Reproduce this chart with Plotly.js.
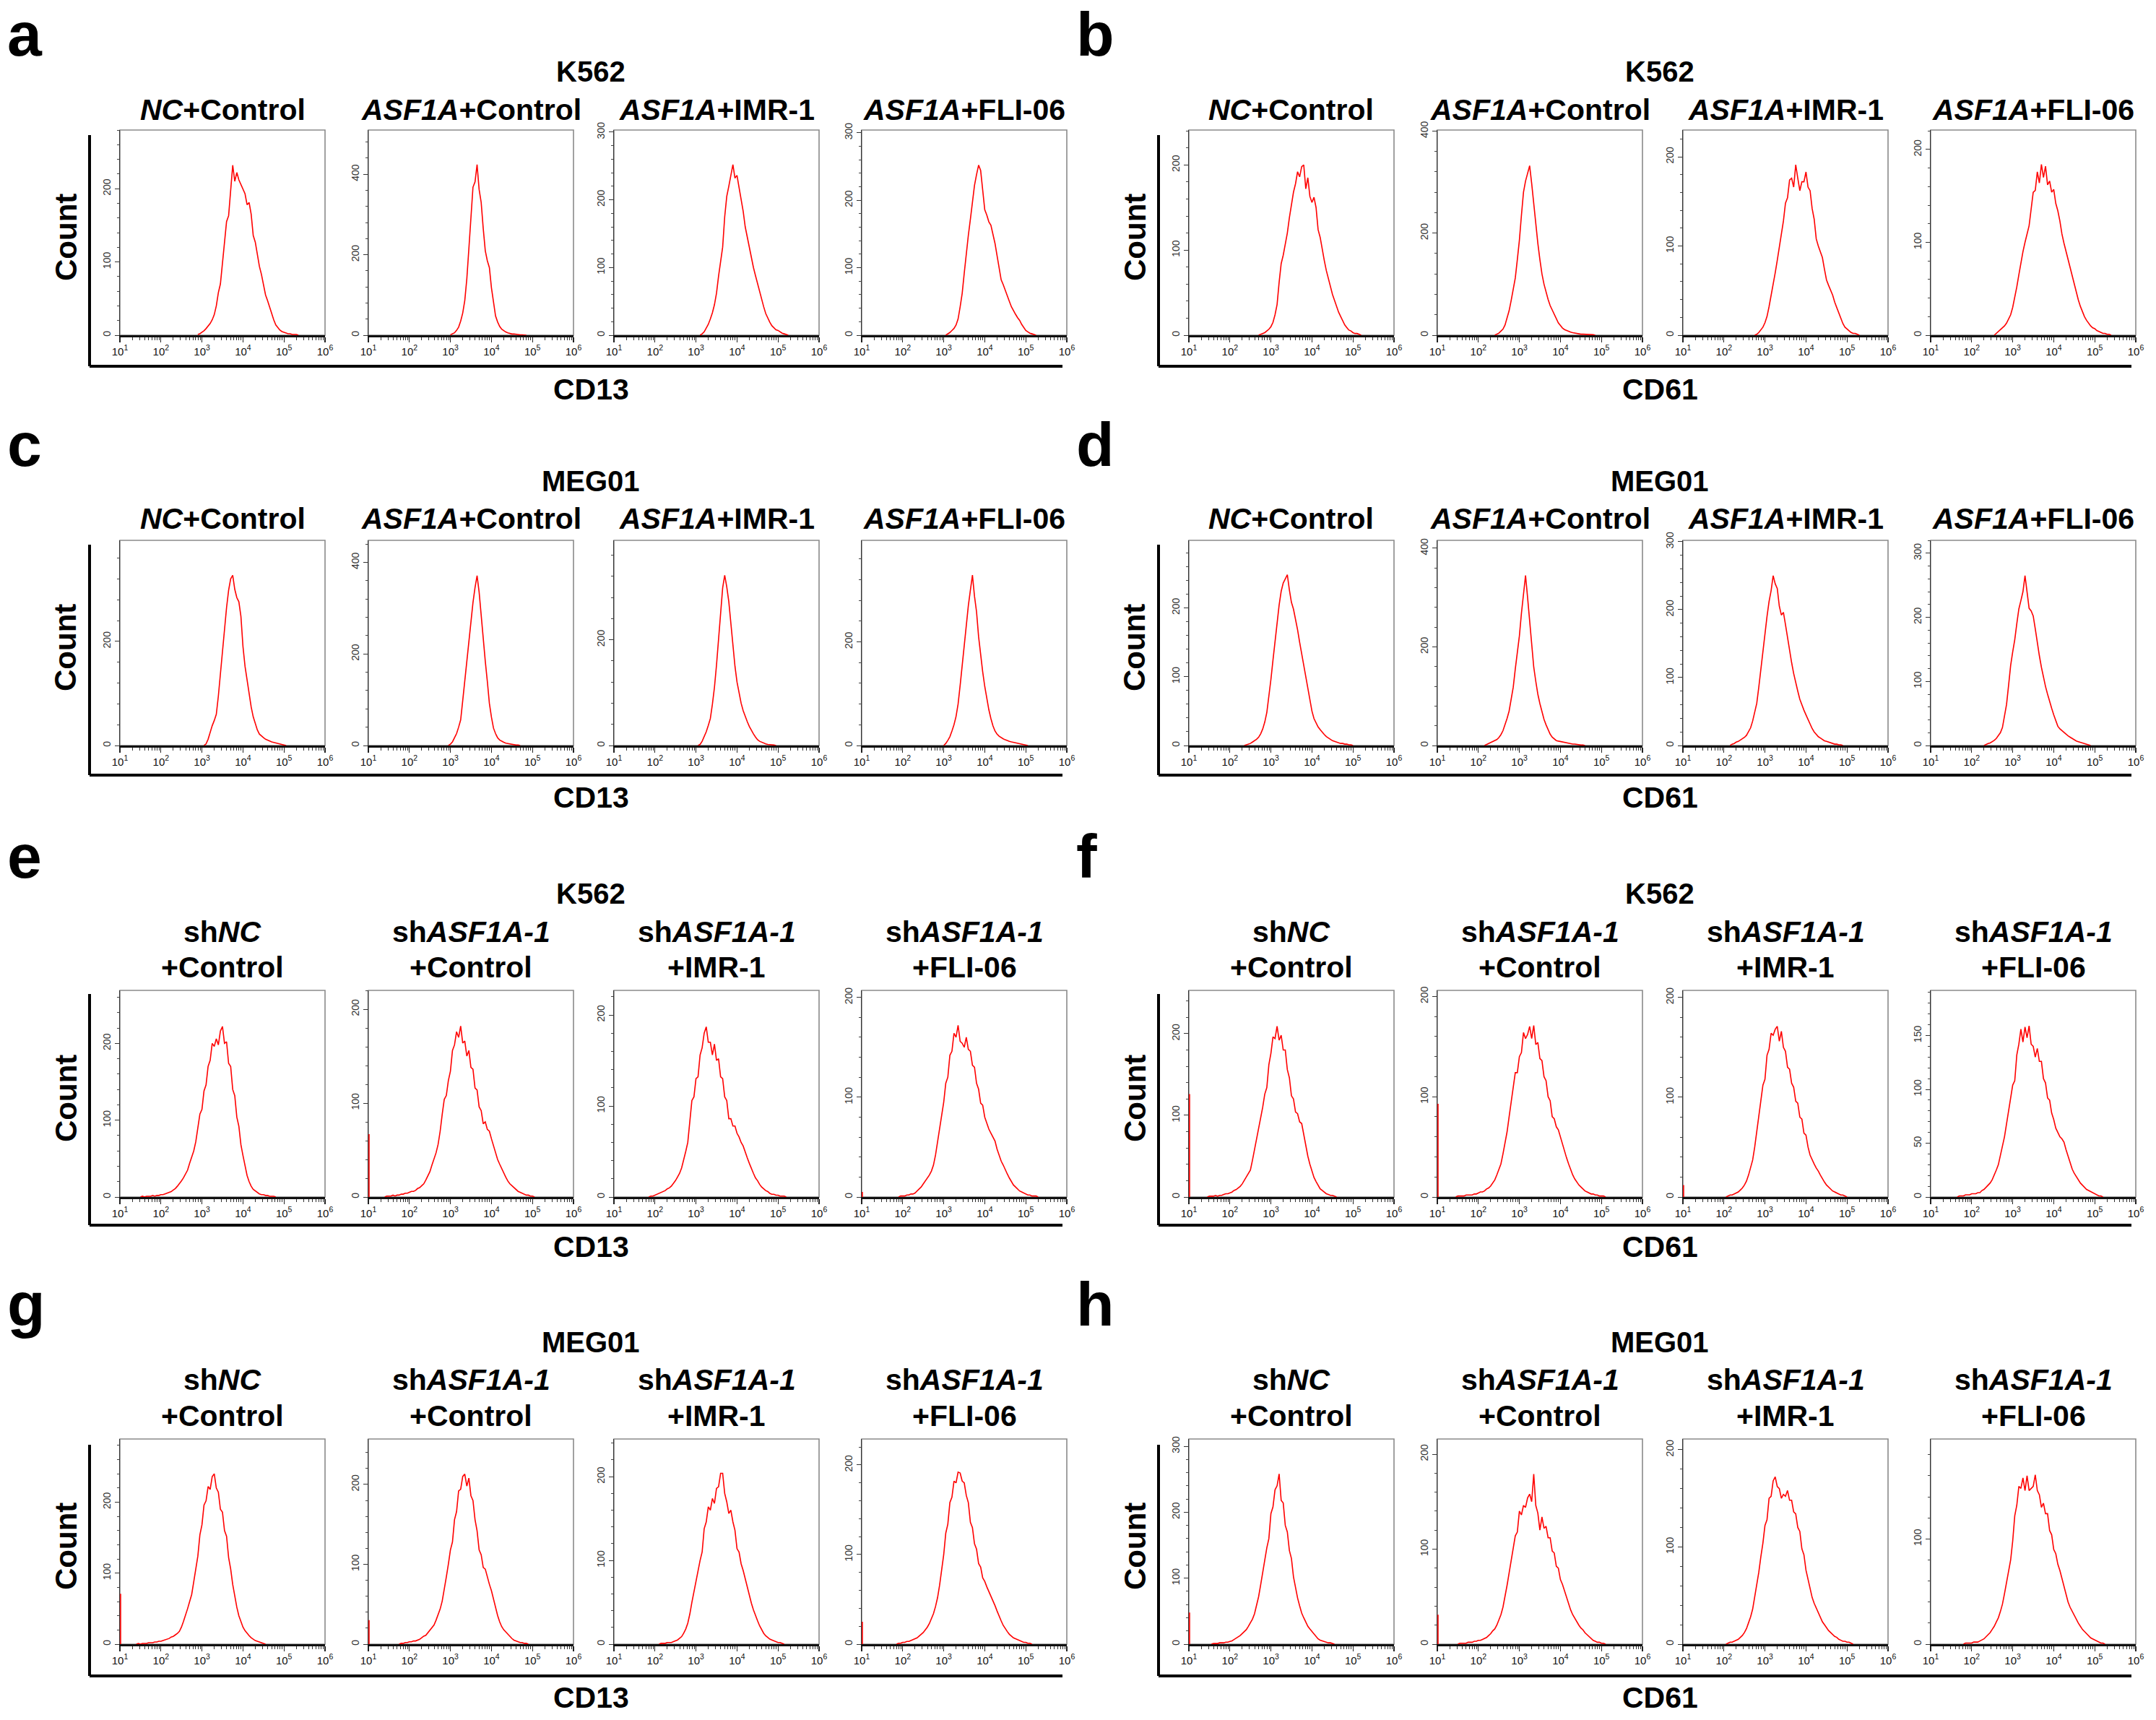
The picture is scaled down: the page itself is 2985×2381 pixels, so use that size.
<!DOCTYPE html>
<html><head><meta charset="utf-8">
<script src="https://cdn.plot.ly/plotly-3.0.1.min.js"></script>
<style>html,body{margin:0;padding:0;background:#fff}#chart{width:2985px;height:2381px}</style>
</head><body><div id="chart"></div>
<script>
// ---------------- DATA ----------------
const PANEL_LETTERS = ['a','b','c','d','e','f','g','h'];
const CELL_LINES = ['K562','K562','MEG01','MEG01','K562','K562','MEG01','MEG01'];
const MARKERS = ['CD13','CD61','CD13','CD61','CD13','CD61','CD13','CD61'];
const GROUPS_OE = ['<i>NC</i>+Control','<i>ASF1A</i>+Control','<i>ASF1A</i>+IMR-1','<i>ASF1A</i>+FLI-06'];
const GROUPS_SH = [['sh<i>NC</i>','+Control'],['sh<i>ASF1A-1</i>','+Control'],['sh<i>ASF1A-1</i>','+IMR-1'],['sh<i>ASF1A-1</i>','+FLI-06']];
const Y_LABEL = 'Count';
const X_TICK_VALUES = [10,100,1000,10000,100000,1000000];
const X_TICK_LABELS = ['10<sup>1</sup>','10<sup>2</sup>','10<sup>3</sup>','10<sup>4</sup>','10<sup>5</sup>','10<sup>6</sup>'];

// histogram channels: log10 of first channel of each curve, channel width in log10 units
const BIN_STEP_LOG = 0.05;
const FIRST_CHANNEL = 10.4;
const START_LOG = [
  [2.90, 3.00, 3.10, 3.05],
  [2.70, 2.40, 2.75, 2.55],
  [3.05, 2.95, 3.05, 3.00],
  [2.35, 2.15, 2.15, 2.30],
  [1.50, 1.40, 1.85, 1.90],
  [1.45, 1.45, 2.05, 1.65],
  [1.40, 1.75, 2.10, 1.85],
  [1.55, 1.50, 2.05, 1.80]
];
// counts piled in the first (lowest) channel
const EDGE_COUNT = [[0,0,0,0],[0,0,0,0],[0,0,0,0],[0,0,0,0],[0,67,0,5],[126,93,12,0],[71,30,0,25],[48,31,0,0]];
const Y_MAX = [[280,510,303,304],[241,402,230,221],[394,448,388,396],[298,416,302,320],[269,220,227,207],[253,206,207,192],[289,257,245,229],[311,216,211,195]];
const Y_DTICK = [[100,200,100,100],[100,200,100,100],[200,200,200,200],[100,200,100,100],[100,100,100,100],[100,100,100,50],[100,100,100,100],[100,100,100,100]];

const COUNTS_A = [
  [1,2,4,6,9,12,16,21,28,40,58,70,100,132,155,163,195,232,210,222,212,206,199,193,178,181,165,136,127,108,94,83,70,55,47,38,29,21,14,10,7,5,4,3,2,2,1,1,1,0],
  [1,3,6,12,20,35,55,86,140,215,295,368,381,424,362,330,265,210,185,168,118,80,48,33,22,15,11,8,6,4,3,3,2,2,1,1,1,0],
  [0,2,5,10,16,24,33,45,62,87,110,130,175,205,220,238,252,232,236,218,200,183,160,145,128,112,100,88,76,65,54,42,32,25,19,14,11,8,7,5,3,2,1,0],
  [0,2,4,7,10,15,24,42,62,92,122,148,172,196,222,238,252,244,215,186,178,168,163,150,136,118,98,82,75,66,59,50,42,36,31,26,22,16,11,7,5,3,2,1,0]
];
const COUNTS_B = [
  [0,1,2,3,5,7,10,15,24,36,62,84,94,106,120,138,152,168,178,192,186,198,200,172,185,163,156,162,150,124,115,100,88,76,66,57,48,41,33,27,22,17,12,9,6,5,3,2,2,1,0],
  [0,2,4,8,12,20,33,48,68,90,112,148,186,235,280,302,318,332,297,258,214,180,148,120,100,83,70,58,49,40,31,24,19,14,11,9,7,6,5,4,3,3,2,2,2,1,1,1,1,0],
  [0,1,3,6,9,14,21,32,44,56,70,84,98,112,128,148,154,174,176,166,191,176,162,172,172,183,166,162,142,130,108,100,94,87,74,62,56,50,45,37,31,24,18,13,9,7,5,3,2,2,1,0],
  [0,2,4,6,8,10,13,17,22,30,40,52,65,78,90,100,108,118,136,154,156,176,164,184,170,182,162,166,154,157,142,134,123,109,99,90,81,73,64,56,47,38,31,25,20,16,13,10,8,7,5,4,3,2,2,1,1,0]
];
const COUNTS_C = [
  [0,3,12,26,38,48,60,95,138,178,218,265,298,320,327,300,284,276,248,190,152,125,98,74,55,42,30,22,18,15,12,10,8,7,6,5,4,3,2,1,0],
  [0,3,8,16,26,40,56,98,140,184,232,276,312,345,371,335,282,228,184,140,92,62,38,26,17,12,9,7,5,4,3,3,2,1,1,0],
  [0,2,8,16,26,38,51,78,110,152,198,250,298,322,300,272,228,186,150,120,98,80,66,54,45,36,28,22,16,11,8,6,4,3,2,2,1,1,0],
  [0,4,10,17,28,40,56,80,116,156,200,240,270,300,329,288,258,210,172,142,114,90,69,52,38,28,22,18,15,13,11,9,8,7,6,5,4,3,2,2,1,0]
];
const COUNTS_D = [
  [0,1,2,3,5,7,9,12,17,24,34,48,70,96,124,152,183,204,224,236,242,248,226,208,198,184,168,150,134,116,100,84,68,50,39,33,27,23,19,16,13,11,9,7,6,5,4,3,3,2,2,1,1,0],
  [0,2,3,5,7,9,12,16,22,30,42,55,70,92,118,155,190,222,268,305,345,300,250,200,159,130,104,85,68,53,42,32,23,17,13,10,9,8,7,6,5,4,4,3,3,2,2,1,1,0],
  [0,2,3,5,6,8,10,12,15,20,26,36,48,62,86,112,138,170,190,212,228,250,238,231,205,192,196,178,158,138,122,106,92,80,68,59,52,45,38,31,25,20,16,13,11,9,7,6,5,4,3,2,2,1,1,0],
  [0,2,3,4,6,8,11,15,20,28,44,64,94,125,146,165,190,213,226,240,265,238,214,210,202,182,160,140,122,105,92,80,68,58,48,38,30,26,23,20,18,15,13,11,9,7,6,5,4,3,2,1,0]
];
const COUNTS_E = [
  [0,1,0,1,1,1,2,1,2,2,3,3,4,5,6,7,9,11,14,17,21,25,30,35,44,52,60,72,88,108,114,138,146,170,178,200,196,206,198,216,222,200,202,174,170,140,132,104,92,68,54,40,28,20,14,10,8,6,4,3,3,2,2,1,1,1,0],
  [0,1,1,1,2,1,2,2,3,3,4,4,5,6,6,7,9,10,12,14,18,22,27,34,40,47,56,70,88,104,108,124,134,156,162,176,170,182,164,166,150,156,138,136,116,114,96,92,78,80,72,70,62,54,46,40,35,30,25,21,17,14,12,10,8,6,5,4,3,2,2,1,1,0],
  [0,1,1,2,3,4,5,6,7,9,10,12,15,18,22,26,32,40,50,60,82,106,110,130,132,156,164,180,187,170,170,156,168,150,152,132,130,110,106,86,86,78,78,70,66,60,56,49,43,37,31,26,21,18,14,11,9,7,6,4,3,3,2,2,1,1,1,0],
  [0,1,1,1,2,2,3,3,4,6,8,10,13,16,19,22,26,32,42,55,69,82,95,114,120,142,146,164,160,172,156,154,150,160,148,146,132,130,114,108,94,92,80,74,68,64,60,56,48,42,36,32,27,23,19,15,12,10,8,6,5,4,3,2,2,1,1,1,0]
];
const COUNTS_F = [
  [0,1,1,1,2,1,2,2,3,4,4,5,6,8,9,11,13,16,20,24,28,33,45,58,72,84,96,110,126,134,162,176,196,194,209,192,198,180,180,156,146,124,120,104,102,92,90,76,64,50,40,32,24,19,14,10,8,6,4,3,2,2,1,0],
  [0,1,1,1,1,2,2,2,2,3,3,4,5,5,6,8,9,11,14,17,22,27,33,43,54,65,80,96,111,124,124,140,144,164,158,162,170,158,171,152,154,138,136,120,116,100,96,80,78,70,67,60,53,45,39,33,27,22,18,15,12,10,8,6,5,4,3,3,2,2,1,1,1,0],
  [0,1,2,2,3,4,5,7,9,12,16,22,29,37,50,66,84,96,112,118,142,148,164,162,168,171,156,166,150,146,130,128,114,110,96,94,80,78,64,62,50,42,37,33,29,26,22,18,15,12,10,8,6,5,4,3,2,2,1,0],
  [0,1,1,1,2,2,2,3,3,3,4,4,6,7,9,11,13,16,20,25,30,38,46,56,68,80,90,104,108,132,142,156,144,158,148,159,142,140,130,138,126,126,110,106,92,90,78,72,64,60,56,54,51,44,38,32,26,22,19,16,13,11,9,7,6,5,4,3,2,1,1,0]
];
const COUNTS_G = [
  [0,1,0,1,1,1,2,2,2,3,3,4,4,5,6,7,8,10,11,13,15,18,24,32,40,50,60,70,88,106,124,154,168,196,202,222,218,236,240,220,214,190,186,160,152,122,106,84,66,52,40,31,24,19,15,12,9,7,5,4,3,2,1,0],
  [0,1,1,2,2,3,3,4,4,5,6,8,10,11,14,17,20,24,30,37,44,54,68,84,100,118,128,156,166,192,194,210,213,198,208,186,180,156,142,118,112,96,94,84,75,67,56,46,36,28,22,18,15,12,9,7,5,4,3,2,2,1,1,0],
  [0,1,1,1,2,2,2,3,4,5,7,9,13,18,25,36,50,63,74,86,100,110,138,146,164,160,174,168,186,188,204,204,180,170,156,160,146,136,114,110,96,88,78,68,58,49,41,34,28,22,17,13,10,8,6,5,4,3,2,2,1,0],
  [0,1,1,2,2,3,3,4,5,6,7,9,11,13,16,19,23,28,34,42,52,66,82,100,124,134,158,164,182,180,192,191,182,180,166,158,136,130,112,106,90,86,74,70,64,59,54,48,43,37,31,26,21,17,14,11,9,7,6,5,4,3,2,2,1,1,0]
];
const COUNTS_H = [
  [0,1,1,1,2,2,2,3,3,4,5,7,9,11,13,16,19,22,27,32,38,46,58,72,90,110,130,146,160,198,208,234,240,258,218,214,180,170,142,130,102,84,70,58,47,40,33,27,23,19,15,11,8,6,5,4,3,2,2,1,0],
  [0,1,1,1,1,2,2,2,3,3,4,4,5,6,7,9,11,14,16,20,25,31,39,50,62,75,88,98,114,118,140,136,146,144,154,158,150,179,146,138,120,134,122,124,112,112,98,96,82,80,68,63,56,49,42,36,31,27,23,20,17,15,12,10,8,6,4,3,2,2,1,1,0],
  [0,1,2,2,3,4,5,7,9,12,16,22,28,36,48,60,74,90,104,122,128,150,152,168,172,162,160,150,154,152,158,148,148,136,134,120,116,98,92,76,66,56,48,42,37,32,27,23,20,17,14,12,10,8,7,5,4,3,3,2,2,1,0],
  [0,1,1,1,1,2,2,2,3,4,5,7,9,11,14,17,21,25,31,38,48,58,68,80,98,122,132,150,148,158,146,160,146,148,150,161,146,142,130,134,124,124,108,104,90,86,76,70,62,54,46,40,35,31,28,24,20,17,14,12,10,8,6,5,4,3,2,1,1,0]
];
const ALL_COUNTS = [COUNTS_A, COUNTS_B, COUNTS_C, COUNTS_D, COUNTS_E, COUNTS_F, COUNTS_G, COUNTS_H];

// ---------------- LAYOUT GEOMETRY (pixels) ----------------
const W = 2985, H = 2381;
const FONT = 'Liberation Sans, Arial, Helvetica, sans-serif';
const COL_OFFSET = 1480;
const BOX_LEFT = [166, 510, 850, 1193];
const BOX_W = 284;
const ROW_TOP = [180, 748, 1371, 1992];
const ROW_BOT = [464, 1032, 1657, 2276];
const px = x => x / W;
const py = y => 1 - y / H;

const traces = [];
const layout = {
  width: W, height: H,
  margin: {l:0, r:0, t:0, b:0},
  paper_bgcolor: '#ffffff', plot_bgcolor: '#ffffff',
  showlegend: false,
  shapes: [], annotations: []
};

for (let p = 0; p < 8; p++) {
  const col = p % 2, row = Math.floor(p / 2);
  for (let j = 0; j < 4; j++) {
    const n = p * 4 + j + 1;
    const sfx = n === 1 ? '' : String(n);
    const counts = ALL_COUNTS[p][j];
    const x = counts.map((_, i) => Math.pow(10, START_LOG[p][j] + i * BIN_STEP_LOG));
    traces.push({type:'scatter', mode:'lines', x: x, y: counts, xaxis:'x'+sfx, yaxis:'y'+sfx,
      line:{color:'#ff0000', width:1.6}, hoverinfo:'skip'});
    if (EDGE_COUNT[p][j] > 0) {
      traces.push({type:'scatter', mode:'lines', x:[FIRST_CHANNEL, FIRST_CHANNEL], y:[0, EDGE_COUNT[p][j]],
        xaxis:'x'+sfx, yaxis:'y'+sfx, line:{color:'#ff0000', width:1.6}, hoverinfo:'skip'});
    }
    const L = BOX_LEFT[j] + col * COL_OFFSET;
    const dt = Y_DTICK[p][j];
    layout['xaxis'+sfx] = {
      domain:[px(L), px(L + BOX_W)], anchor:'y'+sfx, type:'log', range:[1, 6],
      tickmode:'array', tickvals: X_TICK_VALUES, ticktext: X_TICK_LABELS,
      ticks:'outside', ticklen:7, tickwidth:1.2, tickcolor:'#222',
      minor:{ticks:'outside', ticklen:4, tickwidth:1, tickcolor:'#333', dtick:'D1'},
      showline:true, linecolor:'#111', linewidth:2.5, showgrid:false, zeroline:false,
      tickfont:{family:FONT, size:15, color:'#111'}, fixedrange:true
    };
    layout['yaxis'+sfx] = {
      domain:[py(ROW_BOT[row]), py(ROW_TOP[row])], anchor:'x'+sfx, range:[0, Y_MAX[p][j]],
      tickmode:'linear', tick0:0, dtick: dt, tickangle:-90,
      ticks:'outside', ticklen:6, tickwidth:1, tickcolor:'#333',
      minor:{ticks:'outside', ticklen:3, tickwidth:1, tickcolor:'#444', dtick: dt / 5},
      showline:true, linecolor:'#333', linewidth:1.2, showgrid:false, zeroline:false,
      tickfont:{family:FONT, size:14, color:'#333'}, layer:'below traces', fixedrange:true
    };
    layout.shapes.push({type:'rect', xref:'x'+sfx+' domain', yref:'y'+sfx+' domain',
      x0:0, x1:1, y0:0, y1:1, line:{color:'#8a8a8a', width:1.6}, layer:'below'});

    // group labels
    const cx = px(L + BOX_W / 2);
    if (row < 2) {
      layout.annotations.push({xref:'paper', yref:'paper', x:cx, y:py([152, 718][row]), xanchor:'center', yanchor:'middle',
        text: GROUPS_OE[j], showarrow:false, font:{family:FONT, size:41, color:'#000', weight:'bold'}});
    } else {
      const ys = [[1290, 1339], [1910, 1960]][row - 2];
      GROUPS_SH[j].forEach((t, k) => layout.annotations.push({xref:'paper', yref:'paper', x:cx, y:py(ys[k]),
        xanchor:'center', yanchor:'middle', text:t, showarrow:false,
        font:{family:FONT, size:41, color:'#000', weight:'bold'}}));
    }
  }
  // panel letter
  const letterX = col === 0 ? 8 : 1488;
  const letterBase = [77, 645, 1215, 1835][row];
  layout.annotations.push({xref:'paper', yref:'paper', x:px(letterX), y:py(letterBase - 30), xanchor:'left', yanchor:'middle',
    text: PANEL_LETTERS[p], showarrow:false, font:{family:FONT, size:86, color:'#000', weight:'bold'}});
  // cell line
  const midX = 818 + col * COL_OFFSET;
  layout.annotations.push({xref:'paper', yref:'paper', x:px(midX), y:py([99, 666, 1237, 1858][row]), xanchor:'center', yanchor:'middle',
    text: CELL_LINES[p], showarrow:false, font:{family:FONT, size:40, color:'#000', weight:'bold'}});
  // marker
  layout.annotations.push({xref:'paper', yref:'paper', x:px(midX), y:py([539, 1104, 1726, 2350][row]), xanchor:'center', yanchor:'middle',
    text: MARKERS[p], showarrow:false, font:{family:FONT, size:41, color:'#000', weight:'bold'}});
  // Count
  layout.annotations.push({xref:'paper', yref:'paper', x:px(91 + col * COL_OFFSET), y:py((ROW_TOP[row] + ROW_BOT[row]) / 2 + 7),
    xanchor:'center', yanchor:'middle', textangle:-90,
    text: Y_LABEL, showarrow:false, font:{family:FONT, size:42, color:'#000', weight:'bold'}});
  // L frame
  const lx = 124 + col * COL_OFFSET, rx = 1471 + col * COL_OFFSET;
  const topY = [187, 754, 1376, 2000][row], hy = [507, 1073, 1696, 2320][row];
  layout.shapes.push({type:'line', xref:'paper', yref:'paper', x0:px(lx), x1:px(lx), y0:py(topY), y1:py(hy), line:{color:'#000', width:4}});
  layout.shapes.push({type:'line', xref:'paper', yref:'paper', x0:px(lx), x1:px(rx), y0:py(hy), y1:py(hy), line:{color:'#000', width:4}});
}

Plotly.newPlot('chart', traces, layout, {staticPlot:true, displayModeBar:false});
</script>
</body></html>
